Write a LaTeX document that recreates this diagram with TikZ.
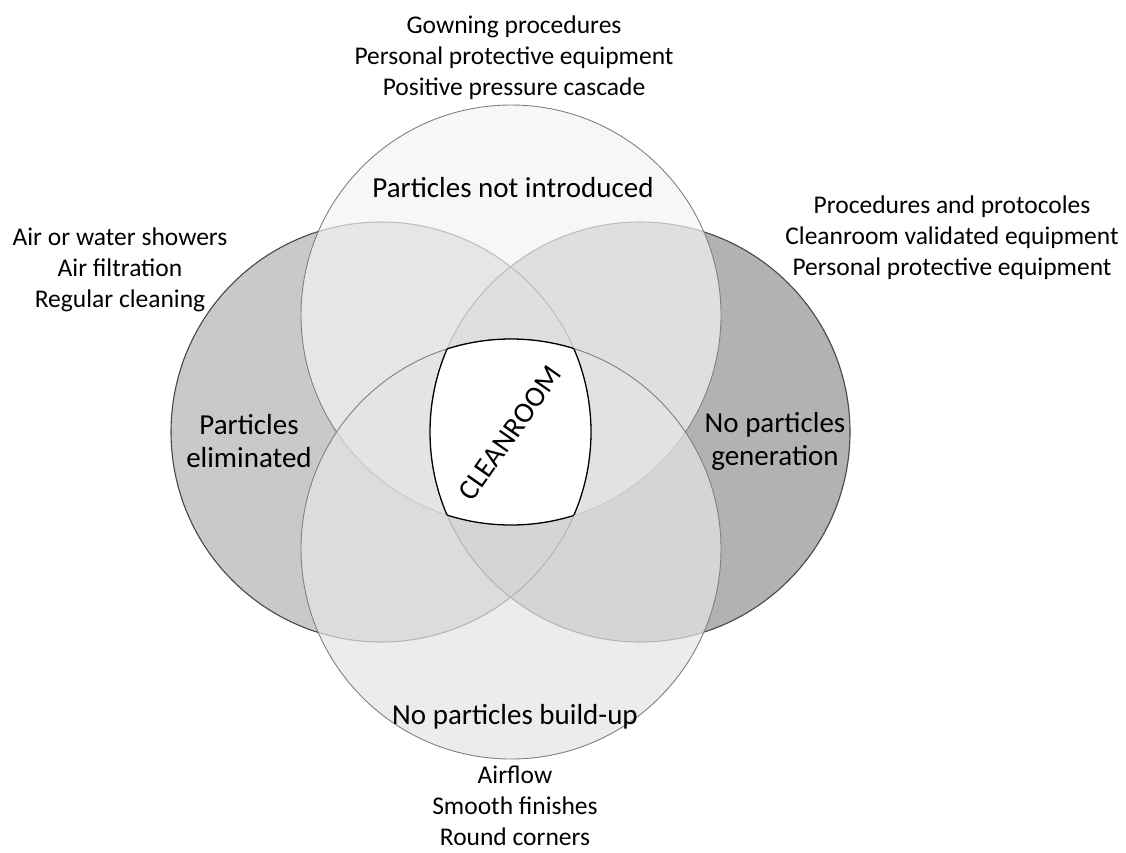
\documentclass[tikz,border=0pt]{standalone}
\usepackage{fontspec}
\setmainfont{Carlito}
\definecolor{fillL}{gray}{0.79}
\definecolor{fillR}{gray}{0.70}
\definecolor{fillT}{gray}{0.955}
\definecolor{fillB}{gray}{0.895}
\definecolor{rimDark}{gray}{0.28}
\definecolor{rimLight}{gray}{0.50}
\begin{document}
\begin{tikzpicture}[x=1pt,y=-1pt,
  listtext/.style={align=center, font=\fontsize{25.5}{31}\selectfont, inner sep=0pt},
  ringlabel/.style={align=center, font=\fontsize{29}{33}\selectfont, inner sep=0pt},
  sideRing/.style={draw=rimDark, line width=1.1pt},
  softRing/.style={draw=rimLight, line width=0.9pt},
  coreRim/.style={draw=black, line width=1.3pt}]
\useasboundingbox (0,0) rectangle (1126,852);
\def\rad{210pt}
\coordinate (cL) at (381,432);
\coordinate (cR) at (640,432);
\coordinate (cT) at (511,315);
\coordinate (cB) at (511,549);

% side circles, opaque
\fill[fillL] (cL) circle[radius=\rad];
\fill[fillR] (cR) circle[radius=\rad];
\draw[sideRing] (cL) circle[radius=\rad];
\draw[sideRing] (cR) circle[radius=\rad];

% top and bottom circles, translucent
\fill[fillT, fill opacity=0.69] (cT) circle[radius=\rad];
\draw[softRing] (cT) circle[radius=\rad];
\fill[fillB, fill opacity=0.71] (cB) circle[radius=\rad];
\draw[softRing] (cB) circle[radius=\rad];

% common part of all four circles
\begin{scope}
  \clip (cL) circle[radius=\rad];
  \clip (cR) circle[radius=\rad];
  \clip (cT) circle[radius=\rad];
  \fill[white] (cB) circle[radius=\rad];
\end{scope}
\begin{scope}
  \clip (cR) circle[radius=\rad];
  \clip (cT) circle[radius=\rad];
  \clip (cB) circle[radius=\rad];
  \draw[coreRim] (cL) circle[radius=\rad];
\end{scope}
\begin{scope}
  \clip (cL) circle[radius=\rad];
  \clip (cT) circle[radius=\rad];
  \clip (cB) circle[radius=\rad];
  \draw[coreRim] (cR) circle[radius=\rad];
\end{scope}
\begin{scope}
  \clip (cL) circle[radius=\rad];
  \clip (cR) circle[radius=\rad];
  \clip (cB) circle[radius=\rad];
  \draw[coreRim] (cT) circle[radius=\rad];
\end{scope}
\begin{scope}
  \clip (cL) circle[radius=\rad];
  \clip (cR) circle[radius=\rad];
  \clip (cT) circle[radius=\rad];
  \draw[coreRim] (cB) circle[radius=\rad];
\end{scope}

% labels inside the circles
\node[ringlabel] (notIntroduced) at (513,188) {Particles not introduced};
\node[ringlabel] (eliminated) at (249,441) {Particles\\eliminated};
\node[ringlabel] (generation) at (775,441) {No particles\\generation};
\node[ringlabel] (buildUp) at (515,717) {No particles build-up};
\node[ringlabel, rotate=55] (cleanroom) at (510,433) {CLEANROOM};

% measures around the circles
\node[listtext] (topList) at (514,58) {Gowning procedures\\Personal protective equipment\\Positive pressure cascade};
\node[listtext] (leftList) at (120,270) {Air or water showers\\Air filtration\\Regular cleaning};
\node[listtext] (rightList) at (952,238) {Procedures and protocoles\\Cleanroom validated equipment\\Personal protective equipment};
\node[listtext] (bottomList) at (515,806) {Airflow\\Smooth finishes\\Round corners};
\end{tikzpicture}
\end{document}
